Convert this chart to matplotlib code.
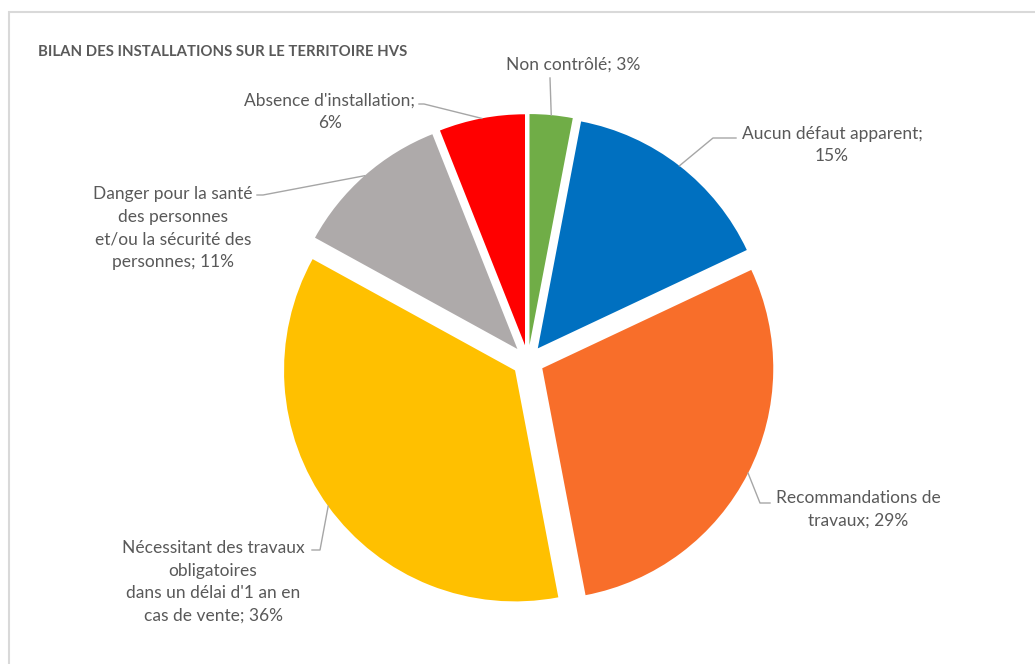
import numpy as np
import matplotlib
matplotlib.use("Agg")
import matplotlib.pyplot as plt

# data
labels = ["Non contrôlé; 3%",
          "Aucun défaut apparent;\n15%",
          "Recommandations de\ntravaux; 29%",
          "Nécessitant des travaux\nobligatoires\ndans un délai d'1 an en\ncas de vente; 36%",
          "Danger pour la santé\ndes personnes\net/ou la sécurité des\npersonnes; 11%",
          "Absence d'installation;\n6%"]
values = [3, 15, 29, 36, 11, 6]
colors = ["#70ad47", "#0070c0", "#f86e2a", "#ffc000", "#aeaaaa", "#ff0000"]

W, H = 1035, 664
TXT = "#595959"
LEAD = "#a6a6a6"
plt.rcParams['font.family'] = ['Lato', 'DejaVu Sans']

fig = plt.figure(figsize=(W / 100, H / 100), dpi=100)
ax = fig.add_axes([0, 0, 1, 1])

def py(y):
    return H - y

# chart border (only top and left visible)
ax.plot([8, W], [py(11.5), py(11.5)], color="#d9d9d9", lw=1.5, solid_capstyle="butt")
ax.plot([8.5, 8.5], [py(11), 0], color="#d9d9d9", lw=1.5, solid_capstyle="butt")

ax.text(38, py(52), "BILAN DES INSTALLATIONS SUR LE TERRITOIRE HVS", fontsize=10.7,
        fontweight="bold", color=TXT, ha="left", va="center")

wedges, _ = ax.pie(values, colors=colors, startangle=90, counterclock=False,
                   radius=231, center=(528, py(361)), explode=[16] * len(values),
                   frame=True, wedgeprops=dict(linewidth=0))
ax.set_xlim(0, W)
ax.set_ylim(0, H)
ax.axis("off")

# label positions (text centre) and leader elbows, in pixel coords
label_pos = [(573, 65), (832, 145), (858, 509), (213, 582), (173, 228), (330, 112)]
elbows = [
    [(550, 78)],
    [(713, 138), (736, 138)],
    [(760, 503), (770, 503)],
    [(320, 550), (312, 550)],
    [(263, 195), (257, 195)],
    [(424, 104), (419, 104)],
]

for w, lab, pos, elb in zip(wedges, labels, label_pos, elbows):
    tm = np.radians((w.theta1 + w.theta2) / 2)
    cx, cy = w.center
    x0 = cx + w.r * np.cos(tm)
    y0 = cy + w.r * np.sin(tm)
    xs = [x0] + [e[0] for e in elb]
    ys = [y0] + [py(e[1]) for e in elb]
    ax.plot(xs, ys, color=LEAD, lw=1)
    ax.text(pos[0], py(pos[1]), lab, fontsize=12.5, color=TXT, ha="center",
            va="center", linespacing=1.5, multialignment="center")

fig.savefig("out.png", dpi=100)
